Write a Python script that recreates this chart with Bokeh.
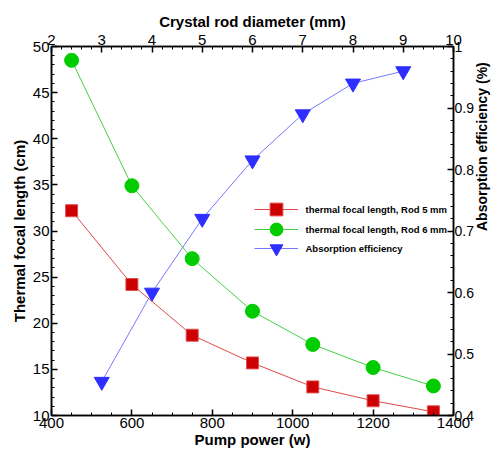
import math
from bokeh.plotting import figure
from bokeh.models import (Range1d, LinearAxis, FixedTicker, Legend, LegendItem, Label)
from bokeh.embed import file_html
from bokeh.resources import INLINE

# Thermal focal length versus pump power for two rod diameters
pump_power = [450, 600, 750, 900, 1050, 1200, 1350]
focal_rod5 = [32.2, 24.2, 18.7, 15.7, 13.1, 11.6, 10.4]
focal_rod6 = [48.5, 34.9, 27.0, 21.3, 17.7, 15.2, 13.2]

# Absorption efficiency versus crystal rod diameter
rod_diameter = [3, 4, 5, 6, 7, 8, 9]
absorption = [0.455, 0.60, 0.72, 0.815, 0.89, 0.94, 0.96]

series_names = ["thermal focal length, Rod 5 mm",
                "thermal focal length, Rod 6 mm",
                "Absorption efficiency"]

FONT = "Liberation Sans"

p = figure(width=500, height=450, output_backend="svg", toolbar_location=None,
           x_range=Range1d(400, 1400), y_range=Range1d(10, 50),
           min_border_left=51, min_border_right=42, min_border_top=46,
           min_border_bottom=33, outline_line_color="black", outline_line_width=1.5)
p.xgrid.visible = False
p.ygrid.visible = False
p.background_fill_color = "white"
p.border_fill_color = "white"

p.extra_x_ranges = {"diam": Range1d(2, 10)}
p.extra_y_ranges = {"abs": Range1d(0.4, 1.0)}


def style_axis(ax, ticks, minor):
    ax.ticker = FixedTicker(ticks=ticks, minor_ticks=minor)
    ax.axis_line_color = "black"
    ax.axis_line_width = 1.5
    ax.major_tick_in = 6
    ax.major_tick_out = 0
    ax.minor_tick_in = 3
    ax.minor_tick_out = 0
    ax.major_tick_line_width = 1.5
    ax.minor_tick_line_width = 1
    ax.major_label_text_font = FONT
    ax.major_label_text_font_size = "15px"
    ax.major_label_text_color = "black"
    ax.major_label_standoff = 2
    ax.axis_label_text_font = FONT
    ax.axis_label_text_font_size = "15px"
    ax.axis_label_text_font_style = "bold"
    ax.axis_label_text_color = "black"
    ax.axis_label_standoff = 2


bottom = p.xaxis[0]
bottom.axis_label = "Pump power (w)"
style_axis(bottom, list(range(400, 1401, 200)), list(range(400, 1401, 50)))
bottom.axis_label_standoff = 0

left = p.yaxis[0]
left.axis_label = "Thermal focal length (cm)"
style_axis(left, list(range(10, 51, 5)), list(range(10, 51, 1)))

top = LinearAxis(x_range_name="diam", axis_label="Crystal rod diameter (mm)")
style_axis(top, list(range(2, 11)), [2 + 0.2 * i for i in range(41)])
p.add_layout(top, "above")

right = LinearAxis(y_range_name="abs", axis_label="Absorption efficiency (%)")
style_axis(right, [0.4, 0.5, 0.6, 0.7, 0.8, 0.9, 1.0],
           [0.4 + 0.02 * i for i in range(31)])
right.major_label_overrides = {1: "1"}
right.major_label_standoff = 1
right.major_label_text_font_size = "14px"
right.axis_label_standoff = 5
right.axis_label_text_font_size = "14px"
# title reads bottom to top, like the left one
right.axis_label_orientation = math.pi / 2
p.add_layout(right, "right")

# series
l1 = p.line(pump_power, focal_rod5, line_color="#e04848", line_width=1)
m1 = p.scatter(pump_power, focal_rod5, marker="square", size=12,
               fill_color="#cc0000", line_color="#e05050", line_width=1)
l2 = p.line(pump_power, focal_rod6, line_color="#44d044", line_width=1)
m2 = p.scatter(pump_power, focal_rod6, marker="circle", size=14,
               fill_color="#00cc00", line_color="#00cc00")
l3 = p.line(rod_diameter, absorption, line_color="#7878ff", line_width=1,
            x_range_name="diam", y_range_name="abs")
m3 = p.scatter(rod_diameter, absorption, marker="inverted_triangle", size=15,
               fill_color="#2e2eff", line_color="#2e2eff",
               x_range_name="diam", y_range_name="abs")

# one legend key per row (line + marker), with the entry text beside it
row_y = [206, 186, 167]
for name, renderers, y in zip(series_names, [[l1, m1], [l2, m2], [l3, m3]], row_y):
    key = Legend(items=[LegendItem(label=" ", renderers=renderers)],
                 location=(203, y - 16))
    key.background_fill_alpha = 0
    key.border_line_alpha = 0
    key.padding = 0
    key.margin = 0
    key.spacing = 0
    key.glyph_width = 44
    key.glyph_height = 32
    key.label_height = 32
    key.label_standoff = 0
    key.label_text_font_size = "9px"
    p.add_layout(key, "center")
    p.add_layout(Label(x=254, y=y, x_units="screen", y_units="screen",
                       text=name, text_font=FONT, text_font_size="9.5px",
                       text_font_style="bold", text_color="black",
                       text_baseline="middle", text_align="left"))

open("out.html", "w").write(file_html(p, INLINE))
